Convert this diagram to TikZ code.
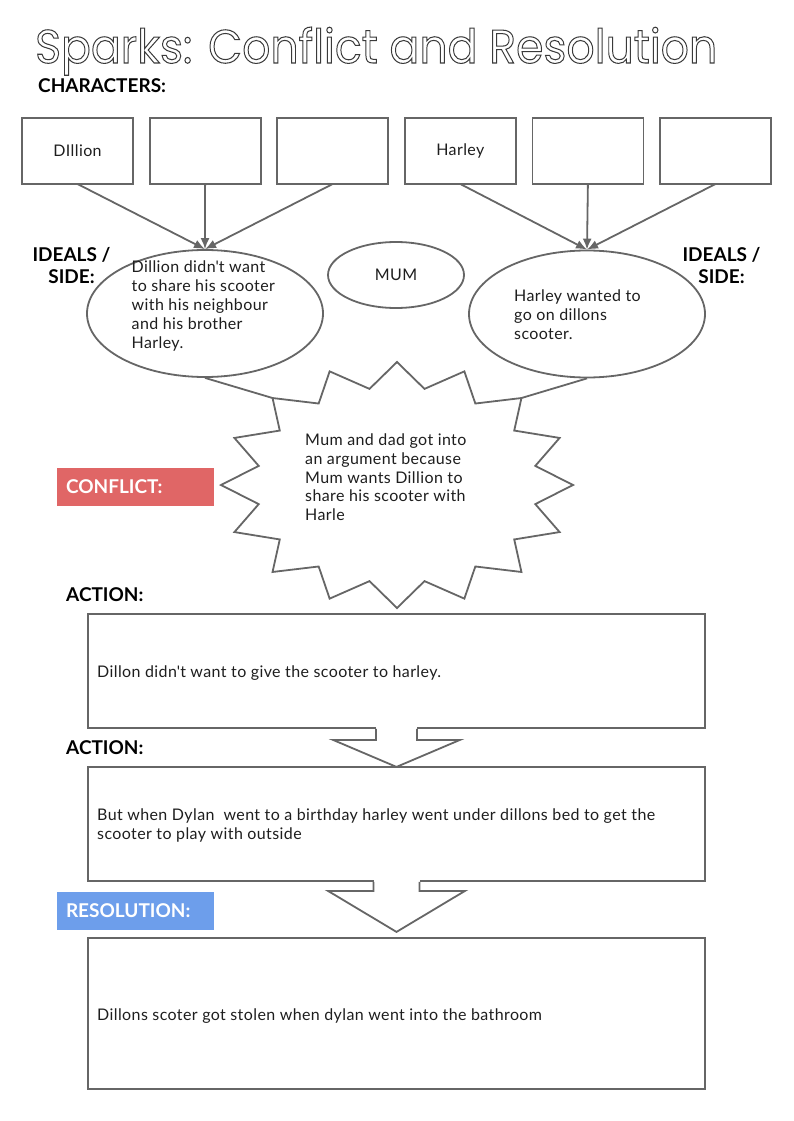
\documentclass[tikz,border=0pt]{standalone}
\usepackage{fontspec}
\setmainfont{Lato}[LetterSpace=2.5]
\newfontfamily\headlato{Lato}
\newfontfamily\titlefont{Poppins}
\usepackage{graphicx}
\usetikzlibrary{arrows.meta,positioning,shapes.geometric,calc}

\definecolor{linegray}{HTML}{666666}
\definecolor{textdark}{HTML}{1E1E1E}
\definecolor{titlegray}{HTML}{3A3A3A}
\definecolor{conflictred}{HTML}{E06666}
\definecolor{resolveblue}{HTML}{6D9EEB}

\newcommand{\bodyfont}{\fontsize{16}{18.8}\selectfont}
\newcommand{\headfont}{\fontsize{19}{22}\selectfont\headlato\bfseries}
\newcommand{\outlined}[1]{\special{pdf:literal direct 1 Tr 1.1 w}#1\special{pdf:literal direct 0 Tr}}

\begin{document}
\begin{tikzpicture}[x=1pt,y=-1pt]
			% \usetikzlibrary{arrows.meta,positioning,shapes.geometric,calc}
			\tikzstyle{grayline} = [draw=linegray, line width=1.8pt]
			\tikzstyle{charbox} = [rectangle, grayline, minimum width=111pt, minimum height=66pt, inner sep=0pt, outer sep=0pt, font=\bodyfont, text=textdark]
			\tikzstyle{ideal} = [ellipse, grayline, fill=white, inner sep=0pt]
			\tikzstyle{body} = [anchor=north west, align=left, inner sep=0pt, font=\bodyfont, text=textdark]
			\tikzstyle{heading} = [inner sep=0pt, font=\headfont, text=black]
			\tikzstyle{tag} = [rectangle, minimum width=157pt, minimum height=38pt, text width=139pt, inner xsep=9pt, align=left, font=\headfont, text=white]
			\tikzstyle{actbox} = [rectangle, grayline, minimum width=617pt, inner sep=0pt]
			\tikzstyle{arrow} = [grayline, -{Latex[length=11pt,width=9pt]}]

			\useasboundingbox (0,0) rectangle (793,1121);

			\node[anchor=base west, inner sep=0pt, text=titlegray] (title) at (35,63)
				{\resizebox{682pt}{36pt}{\fontsize{50}{50}\selectfont\titlefont\outlined{Sparks: Conflict and Resolution}}};
			\node[heading, anchor=west] (characters) at (38,85.5) {CHARACTERS:};

			\node[charbox] (c1) at (77.5,151) {DIllion};
			\node[charbox, right=16.6pt of c1] (c2) {};
			\node[charbox, right=16.6pt of c2] (c3) {};
			\node[charbox, right=16.6pt of c3] (c4) {Harley};
			\node[charbox, right=16.6pt of c4] (c5) {};
			\node[charbox, right=16.6pt of c5] (c6) {};

			\node[ideal, minimum width=236pt, minimum height=127pt] (dillideal) at (205,313.5) {};
			\node[ideal, minimum width=236pt, minimum height=127pt] (harlideal) at (587,314) {};
			\node[ideal, minimum width=136pt, minimum height=66pt, font=\bodyfont, text=textdark] (mum) at (396,275) {MUM};

			\node[body] (dilltext) at (131.5,261) {Dillion didn\textquotesingle t want\\to share his scooter\\with his neighbour\\and his brother\\Harley.};
			\node[body] (harltext) at (514,289.5) {Harley wanted to\\go on dillons\\scooter.};

			\node[heading, align=center] (idealsl) at (71.5,266) {IDEALS /\\SIDE:};
			\node[heading, align=center] (idealsr) at (721.5,266) {IDEALS /\\SIDE:};

			\foreach \b in {c1,c2,c3}
				\draw[arrow] (\b.south) -- (dillideal.north);
			\foreach \b in {c4,c5,c6}
				\draw[arrow] (\b.south) -- (harlideal.north);

			% spark
			\coordinate (starc) at (397,485);
			\draw[grayline, fill=white] ([shift={(0:176pt and 123pt)}]starc)
				\foreach \i in {1,...,16} {
					-- ([shift={({\i*22.5-11.25}:141pt and 98pt)}]starc)
					-- ([shift={({\i*22.5}:176pt and 123pt)}]starc)
				} -- cycle;
			\coordinate (sparknw) at ([shift={(135:176pt and 123pt)}]starc);
			\coordinate (sparkne) at ([shift={(45:176pt and 123pt)}]starc);
			\draw[grayline] (dillideal.south) -- (sparknw);
			\draw[grayline] (harlideal.south) -- (sparkne);
			\node[body] (sparktext) at (305,433.5) {Mum and dad got into\\an argument because\\Mum wants Dillion to\\share his scooter with\\Harle};

			\node[tag, fill=conflictred] (conflict) at (135.5,486.5) {CONFLICT:};

			\node[heading, anchor=west] (action1) at (66,595) {ACTION:};
			\node[actbox, minimum height=114pt] (act1) at (396.5,671) {};
			\node[body] (act1text) at (97,665.4) {Dillon didn\textquotesingle t want to give the scooter to harley.};
			\node[heading, anchor=west] (action2) at (66,748) {ACTION:};
			\node[actbox, minimum height=114pt] (act2) at (396.5,824) {};
			\node[body] (act2text) at (97,808.4) {But when Dylan\ \ went to a birthday harley went under dillons bed to get the\\scooter to play with outside};
			\node[tag, fill=resolveblue] (resolution) at (135.5,911) {RESOLUTION:};
			\node[actbox, minimum height=151pt] (act3) at (396.5,1013.5) {};
			\node[body] (act3text) at (97,1008.4) {Dillons scoter got stolen when dylan went into the bathroom};

			\foreach \from/\sw/\sh/\hw/\hh in {act1/20.5/11/63.5/38, act2/23/9/68.5/50} {
				\fill[white] ($(\from.south)+(-\sw,-2)$) rectangle ($(\from.south)+(\sw,\sh)$);
				\draw[grayline, fill=white] ($(\from.south)+(-\sw,0)$) -- ($(\from.south)+(-\sw,\sh)$)
					-- ($(\from.south)+(-\hw,\sh)$) -- ($(\from.south)+(0,\hh)$)
					-- ($(\from.south)+(\hw,\sh)$) -- ($(\from.south)+(\sw,\sh)$)
					-- ($(\from.south)+(\sw,0)$);
			}
		\end{tikzpicture}
\end{document}
